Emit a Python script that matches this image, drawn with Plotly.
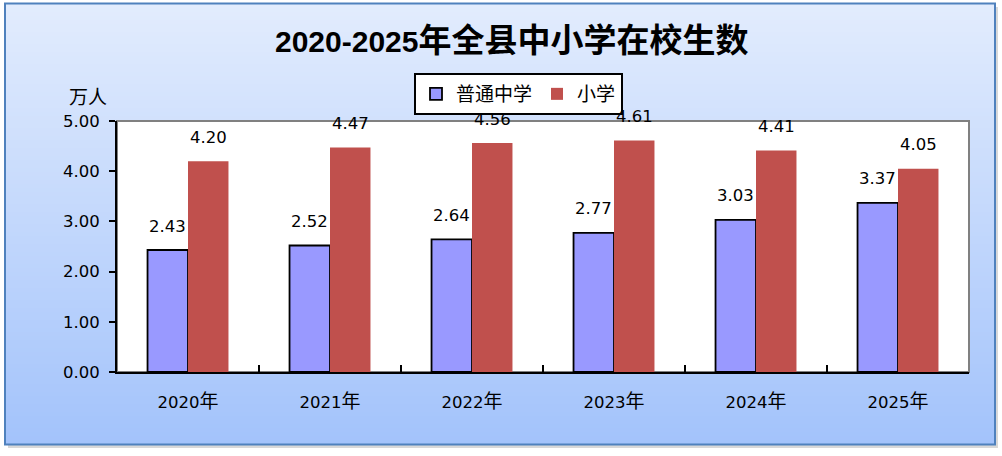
import plotly.graph_objects as go

# ---- data ----
categories = ["2020年", "2021年", "2022年", "2023年", "2024年", "2025年"]
middle_school = [2.43, 2.52, 2.64, 2.77, 3.03, 3.37]
primary_school = [4.20, 4.47, 4.56, 4.61, 4.41, 4.05]
series_names = ["普通中学", "小学"]
y_ticks = [0, 1, 2, 3, 4, 5]
title_text = "2020-2025年全县中小学在校生数"
y_unit = "万人"

W, H = 1002, 456
def px(x):
    return x / W
def py(y):
    return 1 - y / H

FONT = "DejaVu Sans, Noto Sans CJK SC, sans-serif"
PURPLE = "#9999ff"
RED = "#c0504d"

fig = go.Figure()
fig.add_trace(go.Bar(x=categories, y=middle_school, name=series_names[0],
                     marker=dict(color=PURPLE, line=dict(color="black", width=1.8)),
                     hoverinfo="skip"))
fig.add_trace(go.Bar(x=categories, y=primary_school, name=series_names[1],
                     marker=dict(color=RED, line=dict(width=0)),
                     hoverinfo="skip"))

shapes = []
# shadow
shapes.append(dict(type="rect", xref="paper", yref="paper", layer="below",
                   x0=px(8), x1=px(998), y0=py(7), y1=py(448),
                   fillcolor="#d8d8d8", line=dict(width=0)))
# gradient stripes
top_c = (226, 236, 253)
bot_c = (163, 195, 251)
y_top, y_bot = 4, 444
n = 110
for i in range(n):
    t = i / (n - 1)
    c = tuple(round(top_c[k] + (bot_c[k] - top_c[k]) * t) for k in range(3))
    ya = y_top + (y_bot - y_top) * i / n
    yb = y_top + (y_bot - y_top) * (i + 1) / n + 0.6
    shapes.append(dict(type="rect", xref="paper", yref="paper", layer="below",
                       x0=px(5), x1=px(995), y0=py(ya), y1=py(min(yb, y_bot)),
                       fillcolor="rgb(%d,%d,%d)" % c, line=dict(width=0)))
# outer border
shapes.append(dict(type="rect", xref="paper", yref="paper", layer="below",
                   x0=px(5), x1=px(995), y0=py(3.5), y1=py(444.5),
                   fillcolor="rgba(0,0,0,0)", line=dict(color="#4f81bd", width=2)))
# plot area white with gray border (top/right visible)
shapes.append(dict(type="rect", xref="paper", yref="paper", layer="below",
                   x0=px(117), x1=px(969), y0=py(372), y1=py(121),
                   fillcolor="white", line=dict(color="#808080", width=2)))

annotations = []
for i, cat in enumerate(categories):
    annotations.append(dict(x=cat, y=middle_school[i], xref="x", yref="y",
                            text="%.2f" % middle_school[i], showarrow=False,
                            xshift=-20.25, yshift=24, yanchor="middle",
                            font=dict(family=FONT, size=16.5, color="black")))
    annotations.append(dict(x=cat, y=primary_school[i], xref="x", yref="y",
                            text="%.2f" % primary_school[i], showarrow=False,
                            xshift=20.25, yshift=24, yanchor="middle",
                            font=dict(family=FONT, size=16.5, color="black")))
# unit label
annotations.append(dict(x=px(88), y=py(95), xref="paper", yref="paper",
                        text=y_unit, showarrow=False, xanchor="center", yanchor="middle",
                        font=dict(family="Noto Sans CJK SC", size=19, color="black")))
# title
annotations.append(dict(x=px(512), y=py(40), xref="paper", yref="paper",
                        text="<b>" + title_text[:9] + "<span style='font-size:33px'>" + title_text[9:] + "</span></b>",
                        showarrow=False, xanchor="center", yanchor="middle",
                        font=dict(family="Liberation Sans, Noto Sans CJK SC", size=30, color="black")))

ticktext = [c[:-1] + "<span style='font-size:19px'>" + c[-1] + "</span>" for c in categories]

fig.update_layout(
    width=W, height=H,
    autosize=False,
    margin=dict(l=0, r=0, t=0, b=0, pad=0),
    paper_bgcolor="white",
    plot_bgcolor="white",
    barmode="group",
    bargap=0.43,
    bargroupgap=0,
    shapes=shapes,
    annotations=annotations,
    showlegend=True,
    legend=dict(orientation="h", x=px(414), y=py(73), xanchor="left", yanchor="top",
                bgcolor="white", bordercolor="black", borderwidth=2,
                font=dict(family="Noto Sans CJK SC", size=19, color="black"),
                itemclick=False, itemdoubleclick=False),
    xaxis=dict(domain=[px(117), px(969)], type="category",
               tickmode="array", tickvals=categories, ticktext=ticktext,
               tickson="boundaries", ticks="inside", ticklen=7, tickwidth=2, tickcolor="black",
               showline=True, linecolor="black", linewidth=2, showgrid=False,
               ticklabelstandoff=14, automargin=False,
               tickfont=dict(family=FONT, size=16.5, color="black"), fixedrange=True),
    yaxis=dict(domain=[py(372), py(121)], range=[0, 5],
               tickmode="array", tickvals=y_ticks, ticktext=["%.2f" % v for v in y_ticks],
               ticks="outside", ticklen=6, tickwidth=2, tickcolor="black",
               showline=True, linecolor="black", linewidth=2, showgrid=False, zeroline=False,
               ticklabelstandoff=6, automargin=False,
               tickfont=dict(family=FONT, size=16.5, color="black"), fixedrange=True),
)

fig.write_html("out.html", config={"displayModeBar": False, "responsive": False})

with open("out.html", "r", encoding="utf-8") as f:
    html = f.read()
html = html.replace("<head>", "<head><style>html,body{margin:0;padding:0;overflow:hidden;}</style>", 1)
with open("out.html", "w", encoding="utf-8") as f:
    f.write(html)
